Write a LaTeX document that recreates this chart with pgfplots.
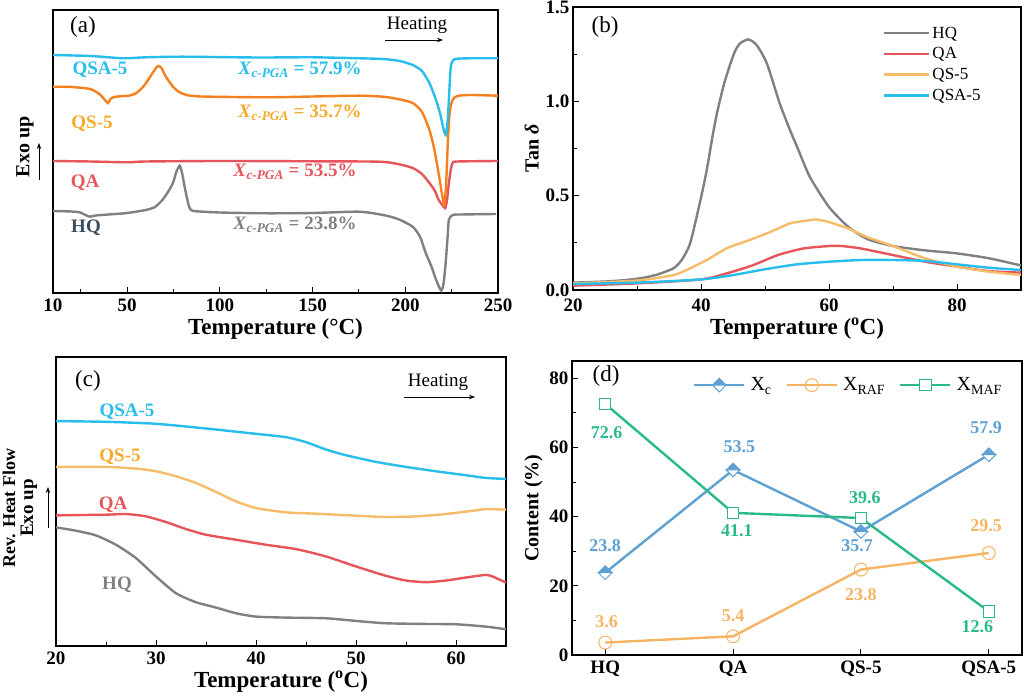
\documentclass[border=0pt]{standalone}
\usepackage{fontspec}
\setmainfont{Liberation Serif}
\usepackage{pgfplots}
\pgfplotsset{compat=1.18}
\usetikzlibrary{arrows.meta}
\definecolor{cgray}{RGB}{128,128,128}
\definecolor{cred}{RGB}{230,85,90}
\definecolor{cdorange}{RGB}{245,128,30}
\definecolor{clorange}{RGB}{246,188,105}
\definecolor{ccyan}{RGB}{40,190,235}
\definecolor{tqs}{RGB}{245,170,40}
\definecolor{thq}{RGB}{60,75,90}
\definecolor{dblue}{RGB}{95,160,210}
\definecolor{dorange}{RGB}{245,180,100}
\definecolor{dgreen}{RGB}{40,185,140}
\newcommand\fs[1]{\fontsize{#1}{#1}\selectfont}
\pgfdeclareplotmark{halfdiamond}{%
  \pgfpathmoveto{\pgfqpoint{-\pgfplotmarksize}{0pt}}%
  \pgfpathlineto{\pgfqpoint{0pt}{\pgfplotmarksize}}%
  \pgfpathlineto{\pgfqpoint{\pgfplotmarksize}{0pt}}%
  \pgfpathclose
  \pgfusepathqfillstroke
  \begin{pgfscope}%
  \pgfsetfillcolor{white}%
  \pgfpathmoveto{\pgfqpoint{-\pgfplotmarksize}{0pt}}%
  \pgfpathlineto{\pgfqpoint{0pt}{-\pgfplotmarksize}}%
  \pgfpathlineto{\pgfqpoint{\pgfplotmarksize}{0pt}}%
  \pgfpathclose
  \pgfusepathqfillstroke
  \end{pgfscope}%
}
\pgfplotsset{
 panel/.style={scale only axis, anchor=south west,
  axis line style={line width=1.2pt},
  every tick/.style={black, line width=1pt},
  tick align=inside, tick pos=left,
  major tick length=6pt, minor tick length=4pt,
  tick label style={font=\fs{19}\bfseries},
  xticklabel style={yshift=-2pt},
  xlabel style={font=\fs{23}\bfseries},
  ylabel style={font=\fs{20}\bfseries},
  /pgf/number format/assume math mode=true,
 },
 curve/.style={line width=2.4pt, smooth, tension=0.4},
}
\begin{document}
\begin{tikzpicture}
\useasboundingbox (0,0) rectangle (1024pt,696pt);
% ---------------- (a)
\begin{axis}[panel, at={(53pt,403pt)}, width=445pt, height=283pt,
  xmin=10, xmax=250, ymin=-293, ymax=-10,
  xtick={10,50,100,150,200,250}, minor xtick={25,75,125,175,225}, ytick=\empty,
  xlabel={Temperature (°C)}]
\addplot[curve, cgray] coordinates {(10,-211) (20,-211.5) (24.4,-212.3) (27,-214.5) (29.8,-216.7) (33,-215.5) (40,-214.5) (50,-213) (60,-210) (65,-207) (69,-200) (72,-192) (74.7,-183) (76.5,-172) (78.3,-165.7) (79.5,-172) (81,-186.7) (82.5,-200) (83.7,-208) (86,-211) (100,-212.5) (125,-213.3) (150,-213) (175,-211.7) (188,-215) (196,-219) (204,-226.7) (208,-237) (211,-253) (214,-266) (216,-276.7) (218,-286) (219.4,-290.7) (220.5,-285) (221.6,-266.7) (222.7,-240) (223.5,-220) (225.5,-215) (230,-214.5) (249,-214)};
\addplot[curve, cred] coordinates {(10,-161) (30,-161.5) (50,-162.3) (60,-161.5) (100,-161) (150,-161.3) (186,-161.7) (196,-164) (204,-168) (209,-174) (213,-183) (216,-191) (218,-200) (220,-205) (221.5,-208) (222.5,-200) (223.5,-183) (224.5,-170) (225.5,-163) (228,-161.5) (250,-161)};
\addplot[curve, cdorange] coordinates {(10,-86.7) (20,-87) (30,-89) (35,-94) (38,-100) (39.7,-103) (41,-99) (43,-97) (48,-96) (51,-95.7) (55,-93) (59,-86) (63,-75) (66,-67) (67,-66) (68.5,-68) (71,-77) (74.7,-86.7) (78,-92) (82,-95) (90,-96.5) (125,-97.3) (150,-96.5) (175,-95.7) (188,-96.7) (196,-99) (204,-103) (209,-112) (213,-130) (215.5,-148) (217,-163) (219,-185) (220.3,-200) (221,-205) (222,-185) (223,-140) (224,-112) (225.5,-100) (228,-96) (235,-95) (250,-95.7)};
\addplot[curve, ccyan] coordinates {(10,-55) (30,-56) (45,-58) (50,-58.3) (60,-57.3) (80,-56.7) (120,-57.5) (150,-57.3) (180,-58.5) (190,-59.3) (197,-61) (204,-65) (209,-71) (213,-83) (216,-97) (218.7,-113) (220.5,-128) (221.8,-135) (222.8,-122) (223.5,-100) (224.3,-72) (225,-63) (226.8,-59) (235,-58.3) (250,-58.3)};
\end{axis}
% ---------------- (b)
\begin{axis}[panel, at={(573pt,406pt)}, width=448pt, height=283pt,
  xmin=20, xmax=90, ymin=0, ymax=1.5,
  xtick={20,40,60,80}, minor xtick={30,50,70},
  xticklabel style={yshift=-3pt},
  ytick={0,0.5,1,1.5}, minor ytick={0.25,0.75,1.25},
  yticklabel style={/pgf/number format/.cd, fixed, fixed zerofill, precision=1},
  xlabel={Temperature (\textsuperscript{o}C)}, ylabel={Tan \textit{δ}},
  legend style={at={(0.685,0.945)}, anchor=north west, draw=none, fill=none,
    font=\fs{17}, row sep=4pt},
  legend cell align=left,
  legend image code/.code={\draw[#1, line width=2.4pt] (0pt,0pt) -- (45pt,0pt);}]
\addplot[curve, cgray] coordinates {(20,0.039) (25,0.045) (28,0.052) (30.5,0.062) (33,0.08) (35.7,0.115) (37,0.16) (38.3,0.247) (39.8,0.459) (40.9,0.636) (41.7,0.795) (42.45,0.93) (43.5,1.08) (44.5,1.19) (45.3,1.265) (46.1,1.307) (47.4,1.328) (48.7,1.298) (50.3,1.20) (52.3,0.989) (53.9,0.848) (55,0.76) (57,0.60) (60,0.44) (63,0.335) (66,0.27) (70,0.233) (75,0.21) (80,0.194) (85,0.168) (90,0.13)};
\addlegendentry{HQ}
\addplot[curve, cred] coordinates {(20,0.023) (30,0.035) (40,0.056) (44,0.088) (48,0.13) (52,0.185) (56,0.22) (60,0.233) (62,0.233) (65,0.22) (70,0.185) (75,0.15) (80,0.124) (85,0.10) (90,0.092)};
\addlegendentry{QA}
\addplot[curve, clorange] coordinates {(20,0.035) (30,0.05) (35.7,0.079) (38,0.11) (40.9,0.159) (44,0.221) (46.1,0.247) (48,0.27) (51,0.31) (53.9,0.353) (57,0.37) (58,0.374) (60,0.36) (63,0.326) (66,0.28) (70,0.233) (75,0.168) (80,0.124) (85,0.097) (90,0.08)};
\addlegendentry{QS-5}
\addplot[curve, ccyan] coordinates {(20,0.032) (30,0.039) (40,0.056) (45,0.079) (50,0.11) (55,0.136) (60,0.15) (65,0.159) (70,0.159) (75,0.154) (80,0.136) (85,0.118) (90,0.106)};
\addlegendentry{QSA-5}
\end{axis}
% ---------------- (c)
\begin{axis}[panel, at={(56pt,50pt)}, width=450pt, height=289pt,
  xmin=20, xmax=65, ymin=-893, ymax=-28,
  xtick={20,30,40,50,60}, minor xtick={25,35,45,55}, ytick=\empty,
  xlabel={Temperature (\textsuperscript{o}C)}]
\addplot[curve, cgray] coordinates {(20,-538) (22,-548) (24,-562) (26,-590) (28,-630) (30,-685) (32,-735) (34,-762) (36,-778) (38,-795) (40,-805) (43,-808) (47,-810) (50,-818) (53,-825) (57,-827) (60,-828) (63,-835) (65,-843)};
\addplot[curve, cred] coordinates {(20,-502) (25,-500) (27,-498) (29,-505) (31,-522) (33,-543) (35,-560) (38,-575) (41,-590) (44,-603) (47,-625) (50,-655) (53,-683) (55,-697) (57,-702) (59,-697) (61,-688) (63,-680) (63.5,-683) (65,-703)};
\addplot[curve, clorange] coordinates {(20,-357) (25,-357) (28,-362) (30,-370) (32,-385) (34,-405) (36,-432) (38,-460) (40,-480) (43,-493) (46,-497) (50,-503) (53,-507) (56,-505) (59,-498) (62,-487) (63,-483) (65,-485)};
\addplot[curve, ccyan] coordinates {(20,-220) (25,-222) (30,-228) (35,-242) (40,-258) (43,-268) (45,-283) (47,-305) (49,-322) (52,-342) (55,-357) (58,-370) (61,-382) (63,-390) (65,-393)};
\end{axis}
% ---------------- (d)
\begin{axis}[panel, at={(572pt,41pt)}, width=450pt, height=294pt,
  xmin=-0.26, xmax=3.26, ymin=0, ymax=85,
  xtick={0,1,2,3}, xticklabels={HQ,QA,QS-5,QSA-5},
  ytick={0,20,40,60,80}, minor ytick={10,30,50,70},
  ylabel={Content (\%)},
  legend columns=3,
  legend style={at={(0.262,0.918)}, anchor=west, draw=none, fill=none, font=\fs{20},
    /tikz/every odd column/.append style={column sep=3pt},
    /tikz/every even column/.append style={column sep=12pt}},
  legend image code/.code={\draw[mark repeat=2,mark phase=2,#1] plot coordinates {(0pt,0pt) (25pt,0pt) (50pt,0pt)};}]
\addplot[dblue, line width=2.4pt, mark=halfdiamond, mark size=6.8pt, mark options={fill=dblue, draw=dblue, line width=1pt}] coordinates {(0,23.8) (1,53.5) (2,35.7) (3,57.9)};
\addlegendentry{X\textsubscript{c}}
\addplot[dorange, line width=2.4pt, mark=o, mark size=6.5pt, mark options={fill=white, line width=1pt}] coordinates {(0,3.6) (1,5.4) (2,24.7) (3,29.5)};
\addlegendentry{X\textsubscript{RAF}}
\addplot[dgreen, line width=2.4pt, mark=square*, mark size=5.7pt, mark options={fill=white, line width=1pt}] coordinates {(0,72.6) (1,41.1) (2,39.6) (3,12.6)};
\addlegendentry{X\textsubscript{MAF}}
\begin{scope}[every node/.style={font=\fs{18}\bfseries}]
\node[text=dblue] at (axis cs:0,31.6) {23.8};
\node[text=dblue] at (axis cs:1.05,60.3) {53.5};
\node[text=dblue] at (axis cs:1.97,31.6) {35.7};
\node[text=dblue] at (axis cs:2.98,65.8) {57.9};
\node[text=dorange] at (axis cs:0.01,9.6) {3.6};
\node[text=dorange] at (axis cs:1.0,11.3) {5.4};
\node[text=dorange] at (axis cs:2.0,17.4) {23.8};
\node[text=dorange] at (axis cs:2.98,37.4) {29.5};
\node[text=dgreen] at (axis cs:0.01,64.3) {72.6};
\node[text=dgreen] at (axis cs:1.03,35.9) {41.1};
\node[text=dgreen] at (axis cs:2.03,45.5) {39.6};
\node[text=dgreen] at (axis cs:2.91,8.1) {12.6};
\end{scope}
\end{axis}
% ---------------- annotations (pixel coordinates)
\begin{scope}[x=1pt, y=-1pt, shift={(0pt,696pt)}]
% (a)
\node[font=\fs{23}] at (83,27) {(a)};
\node[font=\fs{19}] at (417,25) {Heating};
\draw[-{Stealth[length=6pt]}, line width=0.8pt] (385,40) -- (443,40);
\begin{scope}[every node/.style={font=\fs{19}\bfseries}]
\node[text=ccyan] at (100,70) {QSA-5};
\node[text=tqs] at (92,124) {QS-5};
\node[text=cred] at (85,183) {QA};
\node[text=thq] at (86,228) {HQ};
\node[text=ccyan] at (300,70) {\textit{X}\textsubscript{\textit{c-PGA}} = 57.9\%};
\node[text=tqs] at (300,113) {\textit{X}\textsubscript{\textit{c-PGA}} = 35.7\%};
\node[text=cred] at (295,172) {\textit{X}\textsubscript{\textit{c-PGA}} = 53.5\%};
\node[text=cgray] at (295,225) {\textit{X}\textsubscript{\textit{c-PGA}} = 23.8\%};
\end{scope}
\node[font=\fs{20}\bfseries, rotate=90] at (25,147) {Exo up};
\draw[-{Stealth[length=6pt]}, line width=0.8pt] (39,180) -- (39,143);
% (b)
\node[font=\fs{23}] at (605,27) {(b)};
% (c)
\node[font=\fs{23}] at (88,381) {(c)};
\node[font=\fs{19}] at (438,382) {Heating};
\draw[-{Stealth[length=6pt]}, line width=0.8pt] (404,397) -- (475,397);
\begin{scope}[every node/.style={font=\fs{19}\bfseries}]
\node[text=ccyan] at (127,412) {QSA-5};
\node[text=tqs] at (120,457) {QS-5};
\node[text=cred] at (113,505) {QA};
\node[text=cgray] at (117,585) {HQ};
\end{scope}
\node[font=\fs{18}\bfseries, rotate=90] at (9,508) {Rev. Heat Flow};
\node[font=\fs{19}\bfseries, rotate=90] at (29,508) {Exo up};
\draw[-{Stealth[length=6pt]}, line width=0.8pt] (48,528) -- (48,487);
% (d)
\node[font=\fs{23}] at (606,376) {(d)};
\end{scope}
\end{tikzpicture}
\end{document}
